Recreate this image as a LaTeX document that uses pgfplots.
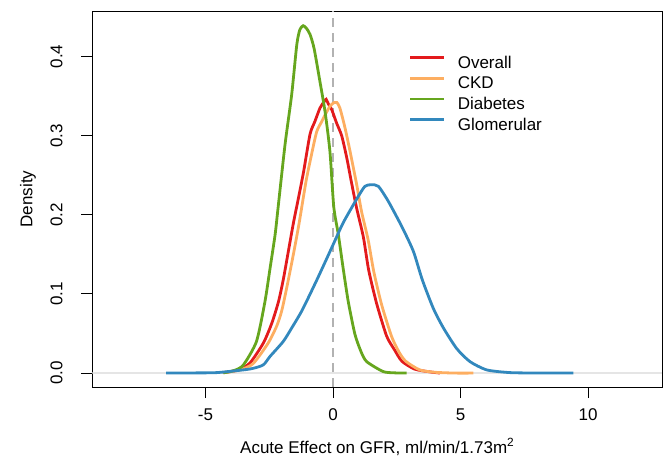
\documentclass[border=0pt]{standalone}
\usepackage{pgfplots}
\pgfplotsset{compat=1.18}
\usepackage{fontspec}
\setmainfont{Liberation Sans}
\definecolor{cred}{HTML}{E31A1C}
\definecolor{corange}{HTML}{FDAE61}
\definecolor{cgreen}{HTML}{66A61E}
\definecolor{cblue}{HTML}{3288BD}
\begin{document}
\fontsize{17bp}{20bp}\selectfont
\begin{tikzpicture}
\begin{axis}[
  name=ax,
  scale only axis,
  width=569.5bp, height=376bp,
  xmin=-9.43, xmax=12.9,
  ymin=-0.0176, ymax=0.4576,
  axis line style={black, line width=0.9bp},
  tick pos=left,
  tick align=outside,
  major tick length=11bp,
  tick style={black, line width=0.9bp},
  xtick={-5,0,5,10},
  ytick={0,0.1,0.2,0.3,0.4},
  yticklabels={0.0,0.1,0.2,0.3,0.4},
  /pgf/number format/assume math mode=true,
  ticklabel style={font=\fontsize{17bp}{20bp}\selectfont},
  xticklabel style={anchor=north, yshift=-5bp},
  yticklabel style={rotate=90, anchor=south, yshift=13bp},
  label style={font=\fontsize{17bp}{20bp}\selectfont},
  xlabel={Acute Effect on GFR, ml/min/1.73m\textsuperscript{2}},
  ylabel={Density},
  xlabel style={at={(axis description cs:0.5,0)}, anchor=center, yshift=-60bp},
  ylabel style={at={(axis description cs:0,0.5)}, anchor=center, rotate=0, yshift=64.5bp},
  legend cell align=left,
  legend style={draw=none, fill=none, at={(axis cs:2.98,0.401)}, anchor=north west,
    inner sep=0pt, outer sep=0pt, row sep=4.7bp, column sep=12bp,
    font=\fontsize{17bp}{20bp}\selectfont,
    nodes={inner sep=0pt, text height=12.5bp, text depth=3.5bp}},
  legend image code/.code={\draw[#1, line width=2.8bp] (0bp,6.1bp) -- (34bp,6.1bp);},
]
\addplot[forget plot, color=black!10, line width=1.5bp] coordinates {(-9.43,0) (12.9,0)};
\addplot[forget plot, color=black!30, line width=2.2bp, dash pattern=on 9bp off 6bp] coordinates {(0,-0.0176) (0,0.4576)};

\addplot[cred, line width=2.8bp, smooth, tension=0.4] coordinates {
(-4.3,0.0005) (-3.7,0.004) (-3.25,0.013) (-2.73,0.038) (-2.4,0.063) (-2.14,0.09)
(-1.95,0.118) (-1.75,0.154) (-1.55,0.19) (-1.35,0.222) (-1.15,0.255) (-0.9,0.302)
(-0.71,0.318) (-0.51,0.335) (-0.35,0.343) (-0.27,0.346) (-0.18,0.34) (-0.05,0.333)
(0.14,0.316) (0.34,0.30) (0.54,0.272) (0.73,0.24) (0.93,0.208) (1.19,0.172)
(1.4,0.13) (1.71,0.088) (2.1,0.047) (2.4,0.03) (2.7,0.015) (3.2,0.005) (3.8,0.0015) (4.2,0.0)
};
\addlegendentry{Overall}
\addplot[corange, line width=2.8bp, smooth, tension=0.4] coordinates {
(-4.3,0.0005) (-3.65,0.004) (-3.13,0.012) (-2.54,0.038) (-2.2,0.06) (-2.0,0.08)
(-1.75,0.118) (-1.53,0.154) (-1.32,0.191) (-1.06,0.242) (-0.85,0.275) (-0.64,0.305)
(-0.44,0.318) (-0.25,0.33) (-0.1,0.338) (0.05,0.342) (0.15,0.342) (0.27,0.335)
(0.47,0.31) (0.67,0.28) (0.93,0.238) (1.12,0.204) (1.38,0.168) (1.6,0.128)
(1.91,0.086) (2.3,0.046) (2.6,0.026) (2.85,0.015) (3.4,0.004) (4.0,0.001) (4.8,0.0) (5.5,0.0)
};
\addlegendentry{CKD}
\addplot[cgreen, line width=2.8bp, smooth, tension=0.4] coordinates {
(-4.3,0.0003) (-3.9,0.003) (-3.52,0.010) (-3.0,0.040) (-2.67,0.090) (-2.47,0.132)
(-2.27,0.175) (-2.15,0.210) (-1.88,0.289) (-1.62,0.352) (-1.42,0.415) (-1.3,0.434)
(-1.17,0.439) (-1.05,0.436) (-0.9,0.428) (-0.74,0.41) (-0.51,0.368) (-0.31,0.33)
(-0.12,0.28) (0.03,0.21) (0.21,0.175) (0.40,0.132) (0.60,0.09) (0.86,0.049)
(1.1,0.027) (1.32,0.0145) (1.96,0.002) (2.4,0.0003) (2.89,0.0)
};
\addlegendentry{Diabetes}
\addplot[cblue, line width=2.8bp, smooth, tension=0.4] coordinates {
(-6.54,0) (-5.5,0.0002) (-4.56,0.0006) (-3.52,0.004) (-3.13,0.006) (-2.73,0.0104)
(-2.47,0.021) (-1.95,0.04) (-1.6,0.058) (-1.2,0.08) (-0.6,0.12) (0.0,0.162)
(0.4,0.19) (0.93,0.22) (1.25,0.236) (1.5,0.238) (1.78,0.236) (2.17,0.217)
(2.7,0.185) (3.15,0.154) (3.5,0.118) (3.93,0.082) (4.33,0.057) (4.85,0.031)
(5.37,0.0145) (6.03,0.004) (6.94,0.0006) (8,0.0001) (9.42,0)
};
\addlegendentry{Glomerular}
\end{axis}
\pgfresetboundingbox
\path[use as bounding box] ([xshift=-92.5bp,yshift=-81bp]ax.south west) rectangle ([xshift=9bp,yshift=11bp]ax.north east);
\end{tikzpicture}
\end{document}
